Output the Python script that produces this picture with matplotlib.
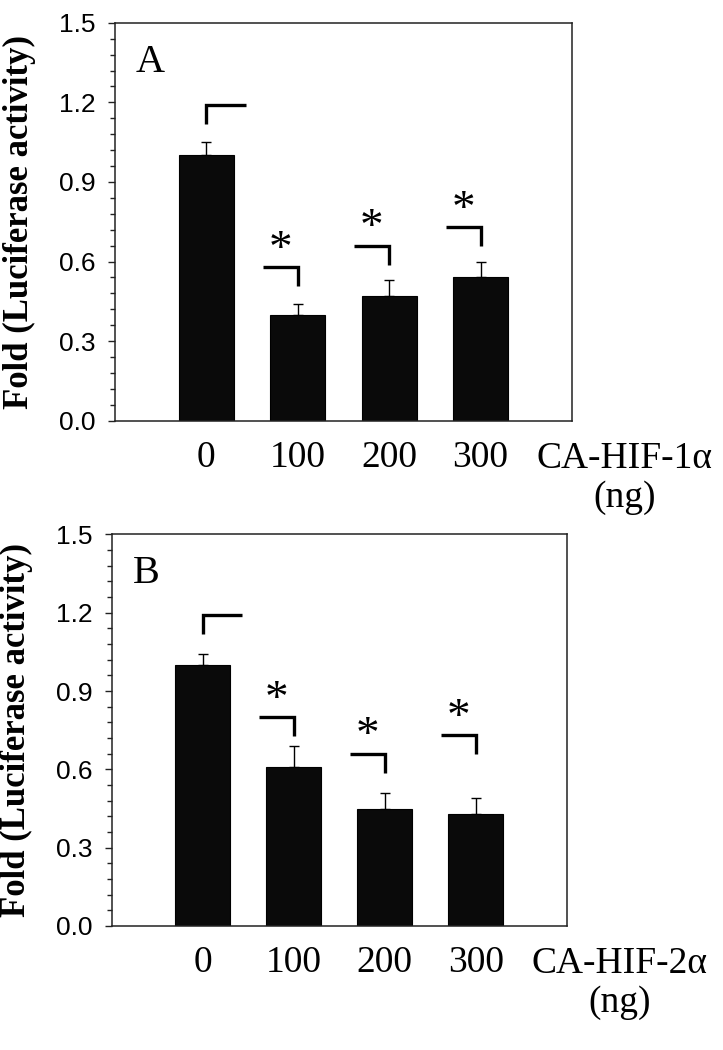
import matplotlib
matplotlib.use("Agg")
import matplotlib.pyplot as plt
import numpy as np

# doses (ng) and luciferase fold values
doses = ["0", "100", "200", "300"]

fold_a = [1.00, 0.40, 0.47, 0.54]
err_a = [0.05, 0.04, 0.06, 0.06]
bracket_a = [1.19, 0.58, 0.66, 0.73]   # height of the significance brackets

fold_b = [1.00, 0.61, 0.45, 0.43]
err_b = [0.04, 0.08, 0.06, 0.06]
bracket_b = [1.19, 0.80, 0.66, 0.73]

serif = "Liberation Serif"
sans = "Liberation Sans"

fig = plt.figure(figsize=(7.23, 10.5), dpi=100)
ax_a = fig.add_axes([0.159, 0.5993, 0.632, 0.3790])
ax_b = fig.add_axes([0.1545, 0.1181, 0.6293, 0.3730])


def panel(ax, fold, err, brackets, letter, xname):
    x = np.arange(len(fold))
    ax.bar(x, fold, width=0.6, color="#0a0a0a", edgecolor="black", linewidth=0.8, zorder=2)
    ax.errorbar(x, fold, yerr=[np.zeros(len(err)), err], fmt="none", ecolor="black",
                elinewidth=1.0, capsize=3.5, capthick=1.0, zorder=1)

    # significance brackets: first one opens right, the others close over their bar
    for i, top in enumerate(brackets):
        if i == 0:
            ax.plot([i, i, i + 0.43], [top - 0.073, top, top], color="black", lw=2.4,
                    solid_joinstyle="miter", solid_capstyle="butt")
        else:
            ax.plot([i - 0.38, i, i], [top, top, top - 0.073], color="black", lw=2.4,
                    solid_joinstyle="miter", solid_capstyle="butt")
            ax.text(i - 0.19, top + 0.02, "*", family=serif, fontsize=34,
                    ha="center", va="baseline")

    ax.set_xlim(-1, 4)
    ax.set_ylim(0, 1.5)
    ax.set_yticks(np.arange(0, 1.51, 0.3))
    ax.set_yticks(np.arange(0, 1.51, 0.06), minor=True)
    ax.set_yticklabels([f"{v:.1f}" for v in np.arange(0, 1.51, 0.3)], family=sans, fontsize=19)
    ax.tick_params(axis="y", which="major", direction="out", length=5, width=1.0, pad=9, color="#222222")
    ax.tick_params(axis="y", which="minor", direction="out", length=3.5, width=1.0, color="#222222")
    ax.set_xticks(x)
    ax.set_xticklabels(doses, family=serif, fontsize=27)
    ax.tick_params(axis="x", length=0, pad=14)
    for s in ax.spines.values():
        s.set_linewidth(1.1)
        s.set_color("#222222")

    ax.set_ylabel("Fold (Luciferase activity)", family=serif, fontsize=25, fontweight="bold")
    ax.yaxis.set_label_coords(-0.172, 0.5)

    ax.text(0.077, 0.90, letter, transform=ax.transAxes, family=serif, fontsize=29,
            ha="center", va="center")
    ax.text(4.58, -0.08, xname + "\n(ng)", family=serif, fontsize=27, ha="center", va="top",
            multialignment="center", linespacing=1.15, clip_on=False)


panel(ax_a, fold_a, err_a, bracket_a, "A", "CA-HIF-1\u03b1")
panel(ax_b, fold_b, err_b, bracket_b, "B", "CA-HIF-2\u03b1")

fig.savefig("out.png", dpi=100)
